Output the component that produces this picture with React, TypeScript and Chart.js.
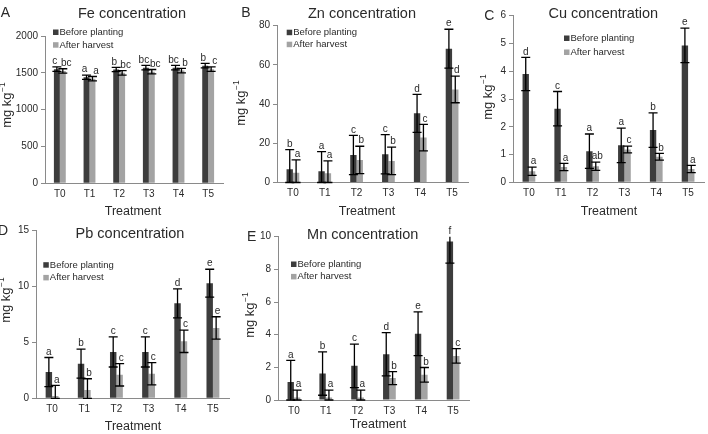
import React, { useEffect, useRef } from 'react';
import { Chart, registerables } from 'chart.js';
Chart.register(...registerables);

const categories = ['T0', 'T1', 'T2', 'T3', 'T4', 'T5'];
const seriesNames = ['Before planting', 'After harvest'];

// Fe
const feBefore = [1550, 1440, 1545, 1570, 1570, 1597];
const feBeforeErr = [30, 30, 30, 30, 30, 30];
const feAfter = [1525, 1420, 1500, 1515, 1530, 1550];
const feAfterErr = [30, 30, 30, 30, 30, 30];
const feBeforeLetters = ['c', 'a', 'b', 'bc', 'bc', 'b'];
const feAfterLetters = ['bc', 'a', 'bc', 'bc', 'b', 'c'];

// Zn
const znBefore = [6.8, 5.8, 14, 14.4, 35.3, 68.3];
const znBeforeErr = [10, 10, 10, 10, 9.7, 9.9];
const znAfter = [5, 4.7, 11.5, 11, 22.9, 47.5];
const znAfterErr = [6.5, 6.3, 7, 7, 6.8, 6.8];
const znBeforeLetters = ['b', 'a', 'c', 'c', 'd', 'e'];
const znAfterLetters = ['a', 'a', 'b', 'b', 'c', 'd'];

// Cu
const cuBefore = [3.9, 2.65, 1.12, 1.33, 1.88, 4.93];
const cuBeforeErr = [0.6, 0.62, 0.62, 0.62, 0.62, 0.62];
const cuAfter = [0.4, 0.55, 0.58, 1.18, 0.92, 0.48];
const cuAfterErr = [0.15, 0.13, 0.15, 0.12, 0.12, 0.13];
const cuBeforeLetters = ['d', 'c', 'a', 'a', 'b', 'e'];
const cuAfterLetters = ['a', 'a', 'ab', 'c', 'b', 'a'];

// Pb
const pbBefore = [2.35, 3.1, 4.15, 4.15, 8.5, 10.3];
const pbBeforeErr = [1.3, 1.3, 1.35, 1.35, 1.3, 1.25];
const pbAfter = [0.2, 0.75, 2.1, 2.2, 5.1, 6.3];
const pbAfterErr = [0.95, 1.0, 1.0, 1.0, 1.0, 1.0];
const pbBeforeLetters = ['a', 'b', 'c', 'c', 'd', 'e'];
const pbAfterLetters = ['a', 'b', 'c', 'c', 'c', 'e'];

// Mn
const mnBefore = [1.1, 1.62, 2.09, 2.8, 4.06, 9.7];
const mnBeforeErr = [1.33, 1.33, 1.33, 1.32, 1.34, 1.32];
const mnAfter = [0.15, 0.15, 0.15, 1.34, 1.54, 2.7];
const mnAfterErr = [0.45, 0.45, 0.45, 0.4, 0.45, 0.44];
const mnBeforeLetters = ['a', 'b', 'c', 'd', 'e', 'f'];
const mnAfterLetters = ['a', 'a', 'a', 'b', 'b', 'c'];

const W = 708;
const H = 434;
const YW = 30;
const XH = 20;
const DARK = '#3d3d3d';
const LIGHT = '#a3a3a3';
const AXIS = '#8a8a8a';
const TEXT = '#2a2a2a';
const FONT = '"Liberation Sans", Arial, sans-serif';

type PanelCfg = {
  letter: string;
  title: string;
  before: number[];
  beforeErr: number[];
  after: number[];
  afterErr: number[];
  beforeLetters: string[];
  afterLetters: string[];
  max: number;
  step: number;
  box: { l: number; r: number; t: number; b: number };
  letterPos: [number, number];
  titlePos: [number, number];
  legendPos: [number, number, number];
  yLabelPos: [number, number];
  xLabelPos: [number, number];
  letterShift: [number, number];
};

const panels: PanelCfg[] = [
  {
    letter: 'A', title: 'Fe concentration',
    before: feBefore, beforeErr: feBeforeErr, after: feAfter, afterErr: feAfterErr,
    beforeLetters: feBeforeLetters, afterLetters: feAfterLetters,
    max: 2000, step: 500,
    box: { l: 45, r: 223, t: 36, b: 183.3 },
    letterPos: [5.5, 13.5], titlePos: [132, 13.5], legendPos: [53, 32.3, 12.7],
    yLabelPos: [7, 105], xLabelPos: [133, 212], letterShift: [-2, 3.5],
  },
  {
    letter: 'B', title: 'Zn concentration',
    before: znBefore, beforeErr: znBeforeErr, after: znAfter, afterErr: znAfterErr,
    beforeLetters: znBeforeLetters, afterLetters: znAfterLetters,
    max: 80, step: 20,
    box: { l: 277, r: 468, t: 25.7, b: 182.5 },
    letterPos: [246, 13.5], titlePos: [362, 13.5], legendPos: [286.7, 32.5, 12],
    yLabelPos: [241, 103], xLabelPos: [367, 212], letterShift: [0, 1.5],
  },
  {
    letter: 'C', title: 'Cu concentration',
    before: cuBefore, beforeErr: cuBeforeErr, after: cuAfter, afterErr: cuAfterErr,
    beforeLetters: cuBeforeLetters, afterLetters: cuAfterLetters,
    max: 6, step: 1,
    box: { l: 513, r: 704, t: 15.7, b: 182.3 },
    letterPos: [489.3, 15.7], titlePos: [603.3, 14], legendPos: [564, 38.3, 14],
    yLabelPos: [488, 97], xLabelPos: [609, 212], letterShift: [0, 1.5],
  },
  {
    letter: 'D', title: 'Pb concentration',
    before: pbBefore, beforeErr: pbBeforeErr, after: pbAfter, afterErr: pbAfterErr,
    beforeLetters: pbBeforeLetters, afterLetters: pbAfterLetters,
    max: 15, step: 5,
    box: { l: 36, r: 229, t: 230.7, b: 398.3 },
    letterPos: [3, 231], titlePos: [130, 234.3], legendPos: [43.3, 265, 12.7],
    yLabelPos: [6, 300], xLabelPos: [133, 427], letterShift: [0, 1.5],
  },
  {
    letter: 'E', title: 'Mn concentration',
    before: mnBefore, beforeErr: mnBeforeErr, after: mnAfter, afterErr: mnAfterErr,
    beforeLetters: mnBeforeLetters, afterLetters: mnAfterLetters,
    max: 10, step: 2,
    box: { l: 278, r: 469, t: 236.7, b: 400 },
    letterPos: [251.7, 236.7], titlePos: [362.7, 235], legendPos: [291, 264.3, 12.4],
    yLabelPos: [250, 315], xLabelPos: [378, 425], letterShift: [0, 1.5],
  },
];

function ChartPanel({ cfg }: { cfg: PanelCfg }) {
  const ref = useRef<HTMLCanvasElement | null>(null);
  useEffect(() => {
    if (!ref.current) return;
    const errs = [cfg.beforeErr, cfg.afterErr];
    const letters = [cfg.beforeLetters, cfg.afterLetters];

    const errorPlugin = {
      id: 'errorBars',
      afterDatasetsDraw(chart: any) {
        const ctx = chart.ctx;
        const y = chart.scales.y;
        ctx.save();
        for (let d = 0; d < chart.data.datasets.length; d++) {
          const meta = chart.getDatasetMeta(d);
          const vals = chart.data.datasets[d].data as number[];
          meta.data.forEach((bar: any, j: number) => {
            const v = vals[j];
            const e = errs[d][j];
            const hiV = Math.min(cfg.max, v + e);
            const loV = Math.max(0, v - e);
            const yHi = y.getPixelForValue(hiV);
            const yLo = y.getPixelForValue(loV);
            const x = bar.x;
            const cw = 4.5;
            ctx.strokeStyle = '#000';
            ctx.lineWidth = 1.3;
            ctx.beginPath();
            ctx.moveTo(x, yHi);
            ctx.lineTo(x, yLo);
            if (v + e <= cfg.max) {
              ctx.moveTo(x - cw, yHi);
              ctx.lineTo(x + cw, yHi);
            }
            ctx.moveTo(x - cw, yLo);
            ctx.lineTo(x + cw, yLo);
            ctx.stroke();
            ctx.fillStyle = TEXT;
            ctx.font = `10px ${FONT}`;
            ctx.textAlign = 'center';
            ctx.textBaseline = 'bottom';
            ctx.fillText(letters[d][j], x + cfg.letterShift[d], yHi - 0.5);
          });
        }
        ctx.restore();
      },
    };

    const textPlugin = {
      id: 'panelText',
      afterDraw(chart: any) {
        const ctx = chart.ctx;
        ctx.save();
        ctx.fillStyle = TEXT;
        ctx.font = `14px ${FONT}`;
        ctx.textAlign = 'center';
        ctx.textBaseline = 'middle';
        ctx.fillText(cfg.letter, cfg.letterPos[0], cfg.letterPos[1]);
        ctx.font = `14.5px ${FONT}`;
        ctx.fillText(cfg.title, cfg.titlePos[0], cfg.titlePos[1]);
        ctx.font = `12.5px ${FONT}`;
        ctx.fillText('Treatment', cfg.xLabelPos[0], cfg.xLabelPos[1]);
        const [lx, ly, ls] = cfg.legendPos;
        const cols = [DARK, LIGHT];
        ctx.font = `9.5px ${FONT}`;
        ctx.textAlign = 'left';
        for (let i = 0; i < 2; i++) {
          const yy = ly + i * ls;
          ctx.fillStyle = cols[i];
          ctx.fillRect(lx, yy - 2.8, 5.5, 5.5);
          ctx.fillStyle = TEXT;
          ctx.fillText(seriesNames[i], lx + 6.5, yy);
        }
        ctx.translate(cfg.yLabelPos[0], cfg.yLabelPos[1]);
        ctx.rotate(-Math.PI / 2);
        const main = 'mg kg';
        const sup = '−1';
        ctx.font = `13px ${FONT}`;
        const w1 = ctx.measureText(main).width;
        ctx.font = `8.5px ${FONT}`;
        const w2 = ctx.measureText(sup).width;
        const start = -(w1 + w2 + 0.5) / 2;
        ctx.textAlign = 'left';
        ctx.textBaseline = 'middle';
        ctx.font = `13px ${FONT}`;
        ctx.fillText(main, start, 0);
        ctx.font = `8.5px ${FONT}`;
        ctx.fillText(sup, start + w1 + 0.5, -4.5);
        ctx.restore();
      },
    };

    const chart = new Chart(ref.current, {
      type: 'bar',
      data: {
        labels: categories,
        datasets: [
          { label: seriesNames[0], data: cfg.before, backgroundColor: DARK, borderWidth: 0, categoryPercentage: 0.4, barPercentage: 1 },
          { label: seriesNames[1], data: cfg.after, backgroundColor: LIGHT, borderWidth: 0, categoryPercentage: 0.4, barPercentage: 1 },
        ],
      },
      options: {
        responsive: false,
        animation: false,
        devicePixelRatio: 1,
        events: [],
        layout: {
          padding: {
            left: cfg.box.l - YW,
            top: cfg.box.t,
            right: W - cfg.box.r,
            bottom: H - cfg.box.b - XH,
          },
        },
        plugins: {
          legend: { display: false },
          title: { display: false },
          tooltip: { enabled: false },
        },
        scales: {
          x: {
            type: 'category',
            offset: true,
            grid: { display: false, drawTicks: false },
            border: { display: true, color: AXIS, width: 1 },
            ticks: { font: { family: FONT, size: 10 }, color: TEXT, padding: 5, maxRotation: 0, autoSkip: false },
            afterFit: (s: any) => { s.height = XH; },
          },
          y: {
            min: 0,
            max: cfg.max,
            ticks: {
              stepSize: cfg.step,
              font: { family: FONT, size: 10 },
              color: TEXT,
              padding: 3,
              callback: (v: any) => String(v),
            },
            grid: { display: true, drawOnChartArea: false, drawTicks: true, tickLength: 4, color: AXIS },
            border: { display: true, color: AXIS, width: 1 },
            afterFit: (s: any) => { s.width = YW; },
          },
        },
      } as any,
      plugins: [errorPlugin, textPlugin],
    });
    return () => chart.destroy();
  }, [cfg]);
  return (
    <canvas
      ref={ref}
      width={W}
      height={H}
      style={{ position: 'absolute', left: 0, top: 0, width: W, height: H }}
    />
  );
}

export default function App() {
  return (
    <div style={{ position: 'fixed', left: 0, top: 0, width: W, height: H, background: '#fff', overflow: 'hidden' }}>
      {panels.map((p) => (
        <ChartPanel key={p.letter} cfg={p} />
      ))}
    </div>
  );
}
